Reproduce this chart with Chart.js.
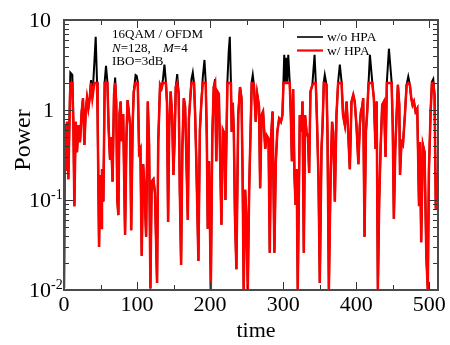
<!DOCTYPE html>
<html>
<head>
<meta charset="utf-8">
<script src="https://cdn.jsdelivr.net/npm/chart.js@4.4.1/dist/chart.umd.min.js"></script>
<style>
  html, body { margin: 0; padding: 0; background: #fff; }
  #wrap { width: 450px; height: 345px; }
</style>
</head>
<body>
<div id="wrap"><canvas id="chart" width="450" height="345"></canvas></div>
<script>
// sample times (at the line's corners)
const times = [
  0, 1.4, 2.7, 4.1, 5.9, 8.7, 11.4, 12.8, 14.2, 16,
  17.8, 19.6, 21.9, 24.2, 26, 27.9, 29.7, 31.5, 33.3, 35.2,
  37, 38.8, 41.6, 43.4, 45.2, 46, 48, 49.3, 50.7, 52,
  53.9, 55.7, 57.5, 59.4, 61.2, 63, 64.5, 66.5, 68.5, 70,
  71.5, 73, 74.4, 76, 77.5, 79, 81, 83.6, 85.5, 87,
  89, 90.5, 92, 94, 95.5, 98, 99.5, 101, 102.8, 104.6,
  106.4, 108.3, 110, 112.4, 114.7, 116.5, 118.3, 120, 122.4, 124.5,
  127.4, 129, 131.5, 133.5, 135.5, 137.5, 139.5, 141, 142.5, 144,
  146, 148, 149.8, 151.5, 153, 155, 157, 158.5, 160.3, 162,
  164, 165.8, 167.5, 169.5, 171, 173, 174.5, 176.3, 178, 179.5,
  181, 184, 186, 188, 190, 192.3, 194, 195.5, 196.8, 198.6,
  201, 203, 205, 206.8, 208.5, 210, 212, 213.5, 215.5, 217.5,
  219.5, 221, 223.7, 225.5, 227, 228.5, 229.6, 231, 232.5, 234,
  236, 238.5, 241, 243, 244.5, 246, 248, 249.5, 251.6, 253.5,
  255.5, 257, 258.4, 260, 262.5, 264.5, 267, 268.5, 270.5, 272.5,
  275.5, 277.5, 280, 281.7, 283.5, 285.5, 288, 290, 292, 294.5,
  297, 299, 300.5, 301.5, 303, 304.3, 305.5, 307, 309, 310.5,
  312, 313.7, 315.5, 317, 318.5, 320, 322.8, 325, 326.5, 328.3,
  330, 332, 334, 335.6, 337.4, 340, 343, 344.7, 346.5, 348.4,
  350.2, 352.5, 354, 355.7, 357, 359.4, 360.7, 362.6, 365, 367,
  368.5, 370.8, 373, 375.3, 377.6, 380, 382, 384.5, 386.8, 389,
  391.3, 393.6, 396, 398, 400.5, 403, 405, 406.5, 408.3, 409.6,
  411.4, 413.3, 415.1, 417, 418.8, 422, 424.2, 426.5, 428, 429.7,
  431.5, 433.4, 435.6, 438, 440.2, 442, 444.8, 448.5, 450, 451.6,
  453.5, 455.3, 457.1, 459, 460, 462, 464, 466.7, 469, 471.3,
  473.5, 475.4, 477.2, 479, 481.3, 483.6, 486, 487.3, 489, 491.3,
  493.6, 496, 498, 499.6, 501.9, 503.7, 505.5, 507.3, 509, 511
];

// w/o HPA (black)
const powerNoHpa = [
  0.0105, 0.68, 0.21, 0.74, 0.17, 2.6, 2.45, 0.74, 0.085, 0.74,
  0.34, 0.68, 0.44, 0.96, 1.35, 0.41, 0.96, 1.35, 1.04, 1.35,
  2.15, 1.35, 3.4, 6.5, 2.06, 0.88, 0.030, 0.19, 0.049, 0.22,
  0.096, 2.06, 3.1, 2.06, 0.6, 0.28, 0.5, 0.16, 1.5, 2.3,
  1.2, 0.1, 0.068, 0.9, 1.24, 0.45, 0.9, 0.041, 0.5, 1.29,
  0.9, 0.68, 0.046, 0.7, 1.6, 2.45, 2.4, 2.06, 0.34, 0.37,
  0.024, 0.25, 0.15, 0.039, 1.24, 0.41, 0.0104, 0.16, 0.17, 0.12,
  0.012, 0.44, 1.9, 1.74, 2.2, 3.2, 2.06, 1.2, 0.057, 0.63,
  1.6, 0.88, 0.19, 0.5, 1.8, 2.5, 1.5, 0.135, 0.019, 0.37,
  1.35, 1.1, 0.3, 0.06, 0.8, 1.4, 2.2, 2.6, 2.0, 0.9,
  0.3, 0.021, 0.6, 1.2, 2.3, 3.6, 2.06, 0.5, 0.048, 0.27,
  0.0102, 0.5, 1.8, 2.2, 0.27, 1.6, 1.5, 0.37, 0.053, 0.6,
  0.55, 0.1, 2.06, 4.5, 6.5, 2.06, 0.57, 1.2, 0.57, 0.068,
  0.017, 0.88, 1.8, 1.35, 0.19, 0.0102, 0.13, 0.068, 0.0102, 0.13,
  0.63, 2.06, 2.45, 1.9, 0.74, 1.5, 1.1, 0.135, 0.88, 0.96,
  0.37, 0.52, 0.48, 0.026, 0.5, 0.96, 0.026, 0.27, 0.57, 0.8,
  0.74, 0.88, 2.2, 4.1, 2.06, 3.8, 2.06, 4.1, 2.06, 0.88,
  0.27, 1.7, 0.19, 0.088, 0.22, 0.0102, 0.88, 0.57, 1.24, 0.026,
  0.88, 0.57, 0.5, 0.2, 1.6, 1.9, 4.1, 2.06, 0.68, 0.17,
  0.012, 0.37, 0.68, 2.06, 2.45, 1.9, 0.57, 0.0102, 0.19, 0.74,
  0.57, 0.096, 0.88, 2.06, 3.2, 2.06, 0.88, 0.68, 1.24, 0.57,
  0.22, 1.24, 1.47, 1.24, 0.65, 0.25, 0.68, 0.96, 1.1, 1.35,
  0.039, 0.57, 0.96, 2.06, 4.1, 2.06, 1.35, 0.37, 1.24, 0.0102,
  0.096, 0.37, 1.14, 1.24, 0.3, 2.06, 4.8, 2.06, 0.68, 0.062,
  0.37, 0.88, 1.9, 1.14, 0.19, 0.44, 0.41, 0.88, 1.9, 2.35,
  1.9, 1.35, 1.14, 1.24, 0.96, 1.04, 0.088, 0.44, 0.034, 0.41,
  0.34, 0.024, 0.0102, 0.22, 0.96, 2.06, 2.2, 1.47, 0.08, 0.2
];

// w/ HPA (red, saturates at 2)
const powerHpa = [
  0.0105, 0.68, 0.21, 0.74, 0.17, 2, 2, 0.74, 0.085, 0.74,
  0.34, 0.68, 0.44, 0.96, 1.35, 0.41, 0.96, 1.35, 1.04, 1.35,
  2, 1.35, 2, 2, 2, 0.88, 0.030, 0.19, 0.049, 0.22,
  0.096, 2, 2, 2, 0.6, 0.28, 0.5, 0.16, 1.5, 2,
  1.2, 0.1, 0.068, 0.9, 1.24, 0.45, 0.9, 0.041, 0.5, 1.29,
  0.9, 0.68, 0.046, 0.7, 1.6, 2, 2, 2, 0.34, 0.37,
  0.024, 0.25, 0.15, 0.039, 1.24, 0.41, 0.0104, 0.16, 0.17, 0.12,
  0.012, 0.44, 1.9, 1.74, 2, 2, 2, 1.2, 0.057, 0.63,
  1.6, 0.88, 0.19, 0.5, 1.8, 2, 1.5, 0.135, 0.019, 0.37,
  1.35, 1.1, 0.3, 0.06, 0.8, 1.4, 2, 2, 2, 0.9,
  0.3, 0.021, 0.6, 1.2, 2, 2, 2, 0.5, 0.048, 0.27,
  0.0102, 0.5, 1.8, 2, 0.27, 1.6, 1.5, 0.37, 0.053, 0.6,
  0.55, 0.1, 2, 2, 2, 2, 0.57, 1.2, 0.57, 0.068,
  0.017, 0.88, 1.8, 1.35, 0.19, 0.0102, 0.13, 0.068, 0.0102, 0.13,
  0.63, 2, 2, 1.9, 0.74, 1.5, 1.1, 0.135, 0.88, 0.96,
  0.37, 0.52, 0.48, 0.026, 0.5, 0.96, 0.026, 0.27, 0.57, 0.8,
  0.74, 0.88, 2, 2, 2, 2, 2, 2, 2, 0.88,
  0.27, 1.7, 0.19, 0.088, 0.22, 0.0102, 0.88, 0.57, 1.24, 0.026,
  0.88, 0.57, 0.5, 0.2, 1.6, 1.9, 2, 2, 0.68, 0.17,
  0.012, 0.37, 0.68, 2, 2, 1.9, 0.57, 0.0102, 0.19, 0.74,
  0.57, 0.096, 0.88, 2, 2, 2, 0.88, 0.68, 1.24, 0.57,
  0.22, 1.24, 1.47, 1.24, 0.65, 0.25, 0.68, 0.96, 1.1, 1.35,
  0.039, 0.57, 0.96, 2, 2, 2, 1.35, 0.37, 1.24, 0.0102,
  0.096, 0.37, 1.14, 1.24, 0.3, 2, 2, 2, 0.68, 0.062,
  0.37, 0.88, 1.9, 1.14, 0.19, 0.44, 0.41, 0.88, 1.9, 2,
  1.9, 1.35, 1.14, 1.24, 0.96, 1.04, 0.088, 0.44, 0.034, 0.41,
  0.34, 0.024, 0.0102, 0.22, 0.96, 2, 2, 1.47, 0.08, 0.2
];

const xTicks = [0, 100, 200, 300, 400, 500];
const xMinorTicks = [50, 150, 250, 350, 450];
const yTicks = [0.01, 0.1, 1, 10];
const yTickLabels = ['10^-2', '10^-1', '1', '10'];
const seriesNames = ['w/o HPA', 'w/ HPA'];

const SERIF = '"Liberation Serif", "DejaVu Serif", serif';

// frame, inward ticks, labels, note and legend
const decorate = {
  id: 'decorate',
  afterDraw(chart) {
    const { ctx, chartArea: a, scales: { x, y } } = chart;
    ctx.save();

    // ticks
    ctx.strokeStyle = '#333';
    ctx.lineWidth = 1;
    ctx.beginPath();
    const xt = (v, len) => {
      const px = Math.round(x.getPixelForValue(v)) + 0.5;
      ctx.moveTo(px, a.bottom); ctx.lineTo(px, a.bottom - len);
      ctx.moveTo(px, a.top); ctx.lineTo(px, a.top + len);
    };
    const yt = (v, len) => {
      const py = Math.round(y.getPixelForValue(v)) + 0.5;
      ctx.moveTo(a.left, py); ctx.lineTo(a.left + len, py);
      ctx.moveTo(a.right, py); ctx.lineTo(a.right - len, py);
    };
    xTicks.forEach(v => xt(v, 8));
    xMinorTicks.forEach(v => xt(v, 5));
    yTicks.forEach(v => yt(v, 9));
    for (let d = 0; d < yTicks.length - 1; d++) {
      for (let m = 2; m <= 9; m++) yt(yTicks[d] * m, 5);
    }
    ctx.stroke();

    // frame
    ctx.strokeStyle = '#4a4a4a';
    ctx.lineWidth = 2;
    ctx.strokeRect(a.left, a.top, a.right - a.left, a.bottom - a.top);

    ctx.fillStyle = '#000';
    // y tick labels
    yTickLabels.forEach((lab, i) => {
      const py = y.getPixelForValue(yTicks[i]);
      const [base, sup] = lab.split('^');
      ctx.font = '22px ' + SERIF;
      ctx.textBaseline = 'middle';
      ctx.textAlign = 'right';
      if (sup) {
        ctx.fillText(base, 51, py + 1);
        ctx.font = '14px ' + SERIF;
        ctx.textAlign = 'left';
        ctx.fillText(sup, 51, py - 5);
      } else {
        ctx.fillText(base, base === '1' ? 54 : 51, py + 1);
      }
    });

    // x tick labels
    ctx.font = '22px ' + SERIF;
    ctx.textAlign = 'center';
    ctx.textBaseline = 'middle';
    xTicks.forEach(v => ctx.fillText(String(v), x.getPixelForValue(v), 305));

    // axis titles
    ctx.fillText('time', 256, 331);
    ctx.save();
    ctx.translate(24, 140);
    ctx.rotate(-Math.PI / 2);
    ctx.font = '24px ' + SERIF;
    ctx.fillText('Power', 0, 0);
    ctx.restore();

    // note
    ctx.textAlign = 'left';
    ctx.font = '13px ' + SERIF;
    ctx.fillText('16QAM / OFDM', 112, 35);
    let cx = 112;
    const seg = (txt, italic) => {
      ctx.font = (italic ? 'italic ' : '') + '13px ' + SERIF;
      ctx.fillText(txt, cx, 48.5);
      cx += ctx.measureText(txt).width;
    };
    seg('N', true); seg('=128,', false);
    cx = 163;
    seg('M', true); seg('=4', false);
    ctx.font = '13px ' + SERIF;
    ctx.fillText('IBO=3dB', 112, 62);

    // legend
    ctx.font = '13.5px ' + SERIF;
    ctx.lineWidth = 1.6;
    ctx.strokeStyle = '#000';
    ctx.beginPath(); ctx.moveTo(297, 37); ctx.lineTo(323, 37); ctx.stroke();
    ctx.fillText(seriesNames[0], 327, 37);
    ctx.lineWidth = 2.2;
    ctx.strokeStyle = '#ff0000';
    ctx.beginPath(); ctx.moveTo(297, 50.5); ctx.lineTo(323, 50.5); ctx.stroke();
    ctx.fillText(seriesNames[1], 327, 51);

    ctx.restore();
  }
};

new Chart(document.getElementById('chart'), {
  type: 'line',
  data: {
    datasets: [
      {
        label: seriesNames[1],
        data: times.map((t, i) => ({ x: t, y: powerHpa[i] })),
        borderColor: '#ff0000',
        borderWidth: 2.5,
        pointRadius: 0,
        tension: 0,
        order: 0
      },
      {
        label: seriesNames[0],
        data: times.map((t, i) => ({ x: t, y: powerNoHpa[i] })),
        borderColor: '#000000',
        borderWidth: 2,
        pointRadius: 0,
        tension: 0,
        order: 1
      }
    ]
  },
  options: {
    responsive: false,
    animation: false,
    devicePixelRatio: 1,
    layout: { padding: { left: 64, right: 12, top: 20, bottom: 55 } },
    plugins: { legend: { display: false }, tooltip: { enabled: false } },
    scales: {
      x: { type: 'linear', min: 0, max: 512, display: false },
      y: { type: 'logarithmic', min: 0.01, max: 10, display: false }
    }
  },
  plugins: [decorate]
});
</script>
</body>
</html>
